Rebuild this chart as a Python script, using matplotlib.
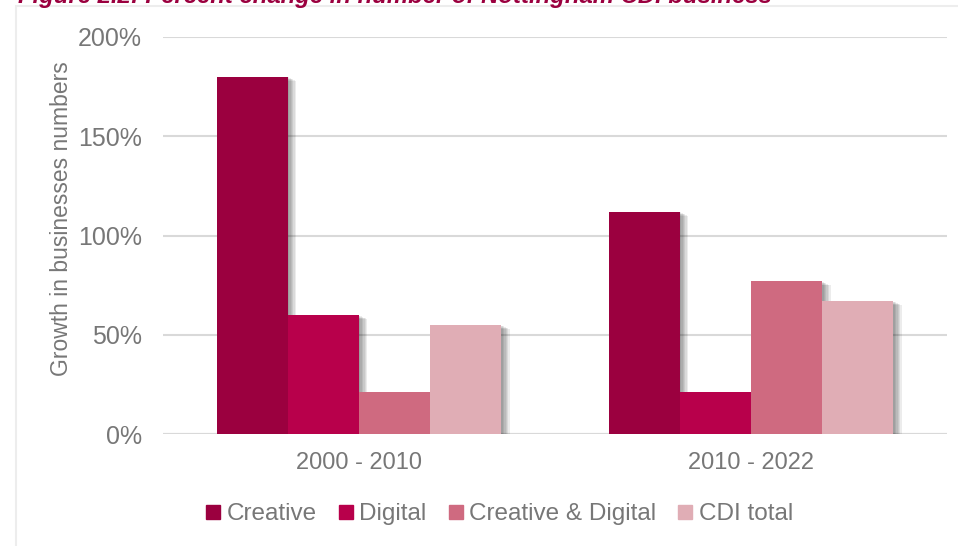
#!/usr/bin/env python3
"""Grouped bar chart: percent change in number of Nottingham CDI businesses."""

import matplotlib
matplotlib.use("Agg")
import matplotlib.pyplot as plt
import matplotlib.patheffects as pe
from matplotlib.lines import Line2D
from matplotlib.patches import Rectangle
from matplotlib.ticker import FuncFormatter
import numpy as np

plt.rcParams["font.family"] = ["Liberation Sans", "DejaVu Sans"]

periods = ["2000 - 2010", "2010 - 2022"]
series = ["Creative", "Digital", "Creative & Digital", "CDI total"]
creative = [1.80, 1.12]
digital = [0.60, 0.21]
creative_digital = [0.21, 0.77]
cdi_total = [0.55, 0.67]

colors = ["#9B003F", "#B8004B", "#CF6A80", "#E0ADB5"]
text_grey = "#777777"
grid_grey = "#D9D9D9"

fig = plt.figure(figsize=(9.58, 5.46), dpi=100)
ax = fig.add_axes([163 / 958, 1 - 434 / 546, 784 / 958, 397 / 546])

# soft drop shadow: a few stacked offset copies at low alpha
shadow = [pe.SimplePatchShadow(offset=(d, -d * 0.5), shadow_rgbFace="black",
                               alpha=0.075) for d in (1.0, 2.0, 3.0, 4.0, 5.0, 6.0)]
shadow.append(pe.Normal())

x = np.arange(len(periods))
width = 0.1816
values = [creative, digital, creative_digital, cdi_total]
for i, (name, vals, c) in enumerate(zip(series, values, colors)):
    ax.bar(x + (i - 1.5) * width, vals, width, color=c, label=name,
           zorder=3, path_effects=shadow)

ax.set_xlim(-0.5, 1.5)
ax.set_ylim(0, 2.0)
ax.set_yticks(np.arange(0, 2.01, 0.5))
ax.yaxis.set_major_formatter(FuncFormatter(lambda v, _: f"{v * 100:.0f}%"))
ax.set_xticks(x)
ax.set_xticklabels(periods)
ax.tick_params(axis="both", length=0, labelcolor=text_grey)
ax.tick_params(axis="y", pad=15, labelsize=18)
ax.tick_params(axis="x", pad=13, labelsize=17)
ax.grid(axis="y", color=grid_grey, lw=1.5, zorder=0)
ax.set_axisbelow(True)
for s in ax.spines.values():
    s.set_visible(False)
ax.axhline(0, color=grid_grey, lw=1.5, zorder=1)

fig.text(62 / 958, 1 - 219 / 546, "Growth in businesses numbers", rotation=90,
         ha="center", va="center", fontsize=16.5, color=text_grey)

# outer frame, open on the right and bottom
fig.add_artist(Rectangle((16 / 958, -0.1), 1.2, 1.1 - 6 / 546,
                         transform=fig.transFigure, fill=False,
                         edgecolor="#EDEDED", lw=1.5))

# heading sits above the frame, mostly cut by the top edge
fig.text(18 / 958, 1 - 3 / 546,
         "Figure 2.2: Percent change in number of Nottingham CDI business",
         ha="left", va="baseline", fontsize=17.2, fontweight="bold",
         fontstyle="italic", color="#9B003F")

# square markers keep the legend keys centred on the text
handles = [Line2D([], [], ls="none", marker="s", markersize=9.5,
                  markerfacecolor=c, markeredgecolor=c) for c in colors]
leg = fig.legend(handles, series, loc="center",
                 bbox_to_anchor=(500 / 958, 1 - 514 / 546),
                 ncol=4, frameon=False, fontsize=17.5, handlelength=0.5,
                 handleheight=0.7, handletextpad=0.3, columnspacing=0.95)
for t in leg.get_texts():
    t.set_color(text_grey)

fig.savefig("out.png", dpi=100)
